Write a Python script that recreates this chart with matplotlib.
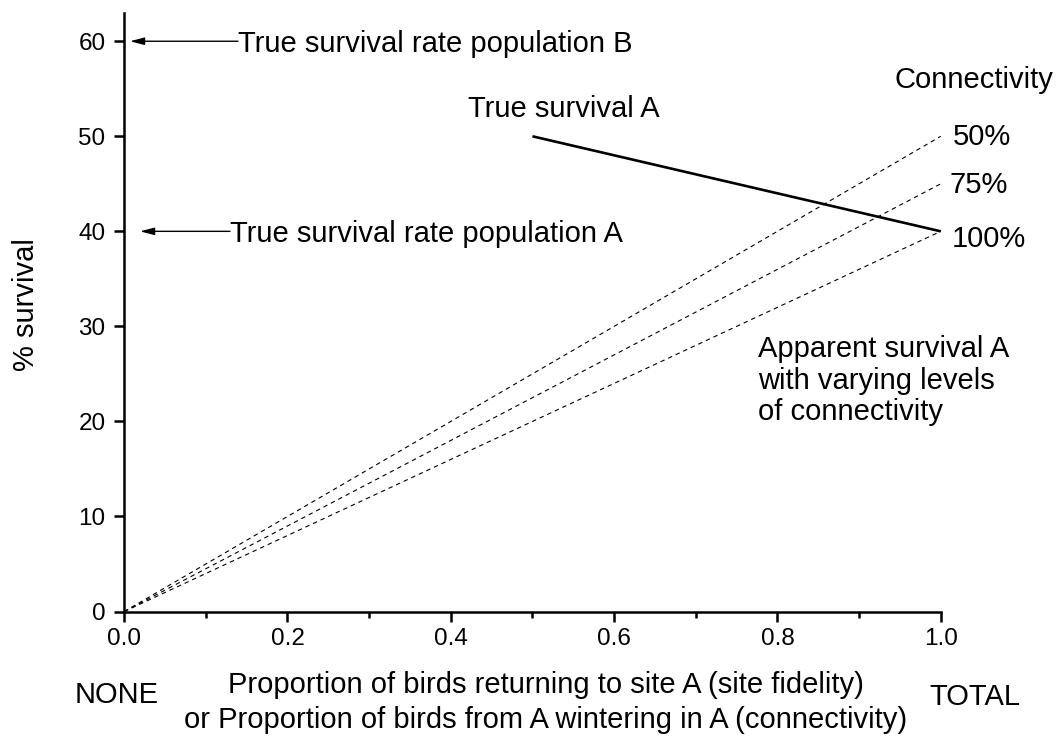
import matplotlib
matplotlib.use("Agg")
import matplotlib.pyplot as plt
from matplotlib.ticker import MultipleLocator

plt.rcParams['font.family'] = ['Liberation Sans', 'DejaVu Sans']

# Data
fidelity = [0.0, 1.0]
connectivity_labels = ['50%', '75%', '100%']
apparent_end = [50, 45, 40]          # apparent survival at full site fidelity
true_a_x = [0.5, 1.0]
true_a_y = [50, 40]
true_b_value = 60
true_a_value = 40

FS = 21
TFS = 17.5

fig = plt.figure(figsize=(10.62, 7.40), dpi=100)
ax = fig.add_axes([0.1169, 0.1736, 0.7689, 0.8092])

for end in apparent_end:
    ax.plot(fidelity, [0, end], color='black', lw=0.8, linestyle=(0, (4, 3.5)))

ax.plot(true_a_x, true_a_y, color='black', lw=1.9, solid_capstyle='butt')

ax.set_xlim(0, 1.0)
ax.set_ylim(0, 63)
ax.spines['top'].set_visible(False)
ax.spines['right'].set_visible(False)
ax.spines['left'].set_linewidth(1.8)
ax.spines['bottom'].set_linewidth(1.8)
ax.xaxis.set_major_locator(MultipleLocator(0.2))
ax.xaxis.set_minor_locator(MultipleLocator(0.1))
ax.yaxis.set_major_locator(MultipleLocator(10))
ax.tick_params(axis='both', which='major', direction='out', length=7.5, width=1.8,
               labelsize=TFS)
ax.tick_params(axis='x', which='major', pad=4)
ax.tick_params(axis='y', which='major', pad=6)
ax.tick_params(axis='x', which='minor', direction='out', length=4.2, width=1.8)
ax.set_xticks([0, 0.2, 0.4, 0.6, 0.8, 1.0])
ax.set_xticklabels(['0.0', '0.2', '0.4', '0.6', '0.8', '1.0'])

# Arrows
arrow_kw = dict(arrowstyle='-|>,head_length=0.85,head_width=0.22',
                color='black', lw=1.0, shrinkA=0, shrinkB=0, mutation_scale=10)
ax.annotate('', xy=(0.0071, true_b_value), xytext=(0.1394, true_b_value),
            arrowprops=arrow_kw)
ax.annotate('', xy=(0.0194, true_a_value), xytext=(0.1296, true_a_value),
            arrowprops=arrow_kw)
ax.text(0.1400, true_b_value - 1.12, 'True survival rate population B',
        fontsize=FS, va='baseline', ha='left')
ax.text(0.1302, true_a_value - 1.12, 'True survival rate population A',
        fontsize=FS, va='baseline', ha='left')

ax.text(0.421, 52.0, 'True survival A', fontsize=FS, va='baseline', ha='left')
ax.text(0.944, 55.05, 'Connectivity', fontsize=FS, va='baseline', ha='left',
        clip_on=False)
label_x = [1.015, 1.011, 1.014]
label_base = [49.05, 44.0, 38.3]
for lab, lx, ly in zip(connectivity_labels, label_x, label_base):
    ax.text(lx, ly, lab, fontsize=FS, va='baseline', ha='left', clip_on=False)

# multi-line baseline alignment refers to the last line
ax.text(0.776, 20.1, 'Apparent survival A\nwith varying levels\nof connectivity',
        fontsize=FS, va='baseline', ha='left', linespacing=1.17)

fig.text(26 / 1062, 1 - 305 / 740, '% survival', fontsize=FS, rotation=90,
         ha='center', va='center')
fig.text(546 / 1062, 1 - 728 / 740,
         'Proportion of birds returning to site A (site fidelity)\n'
         'or Proportion of birds from A wintering in A (connectivity)',
         fontsize=FS, ha='center', va='baseline', linespacing=1.33)
fig.text(117 / 1062, 1 - 703 / 740, 'NONE', fontsize=FS, ha='center', va='baseline')
fig.text(975 / 1062, 1 - 705 / 740, 'TOTAL', fontsize=FS, ha='center', va='baseline')

fig.savefig('out.png', dpi=100)
